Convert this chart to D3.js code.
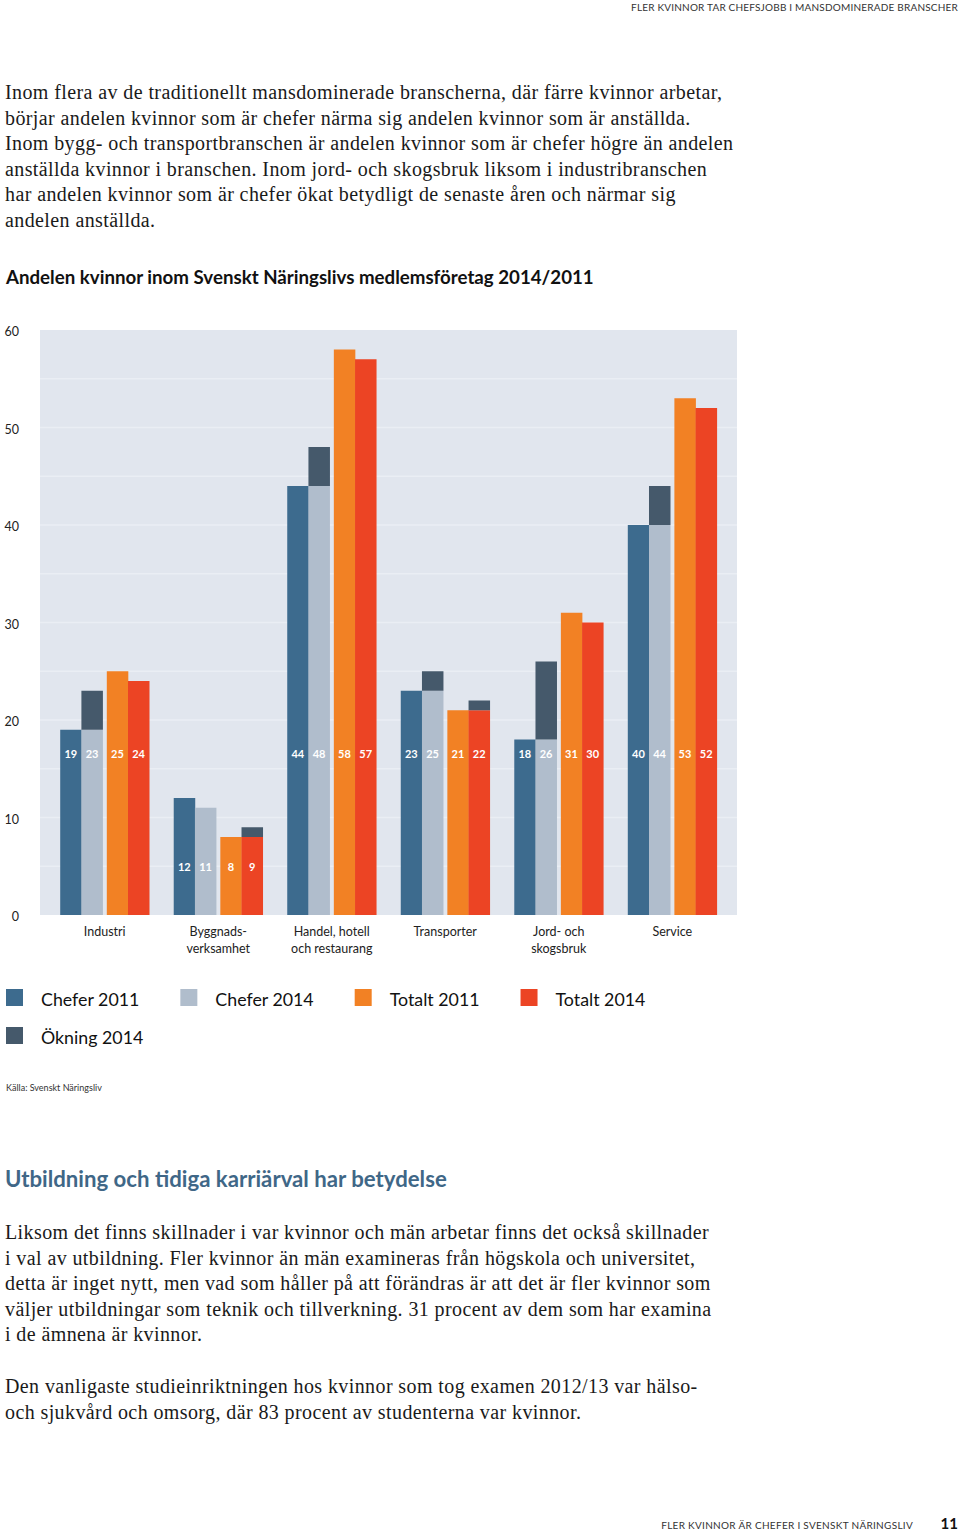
<!DOCTYPE html>
<html><head><meta charset="utf-8">
<script src="https://cdn.jsdelivr.net/npm/d3@7"></script>
<style>
html,body{margin:0;padding:0;background:#fff;}
svg{display:block;}
</style></head>
<body>
<svg id="c" width="960" height="1532"></svg>
<script>
// ---- data ----
const categories = [["Industri"],["Byggnads-","verksamhet"],["Handel, hotell","och restaurang"],["Transporter"],["Jord- och","skogsbruk"],["Service"]];
const chefer2011 = [19, 12, 44, 23, 18, 40];
const chefer2014 = [23, 11, 48, 25, 26, 44];
const totalt2011 = [25, 8, 58, 21, 31, 53];
const totalt2014 = [24, 9, 57, 22, 30, 52];
const yTicks = [0, 10, 20, 30, 40, 50, 60];
const legendLabels = ["Chefer 2011", "Chefer 2014", "Totalt 2011", "Totalt 2014", "Ökning 2014"];

const header = "FLER KVINNOR TAR CHEFSJOBB I MANSDOMINERADE BRANSCHER";
const intro = [
 "Inom flera av de traditionellt mansdominerade branscherna, där färre kvinnor arbetar,",
 "börjar andelen kvinnor som är chefer närma sig andelen kvinnor som är anställda.",
 "Inom bygg- och transportbranschen är andelen kvinnor som är chefer högre än andelen",
 "anställda kvinnor i branschen. Inom jord- och skogsbruk liksom i industribranschen",
 "har andelen kvinnor som är chefer ökat betydligt de senaste åren och närmar sig",
 "andelen anställda."];
const chartTitle = "Andelen kvinnor inom Svenskt Näringslivs medlemsföretag 2014/2011";
const source = "Källa: Svenskt Näringsliv";
const heading2 = "Utbildning och tidiga karriärval har betydelse";
const para2 = [
 "Liksom det finns skillnader i var kvinnor och män arbetar finns det också skillnader",
 "i val av utbildning. Fler kvinnor än män examineras från högskola och universitet,",
 "detta är inget nytt, men vad som håller på att förändras är att det är fler kvinnor som",
 "väljer utbildningar som teknik och tillverkning. 31 procent av dem som har examina",
 "i de ämnena är kvinnor."];
const para3 = [
 "Den vanligaste studieinriktningen hos kvinnor som tog examen 2012/13 var hälso-",
 "och sjukvård och omsorg, där 83 procent av studenterna var kvinnor."];
const footer = "FLER KVINNOR ÄR CHEFER I SVENSKT NÄRINGSLIV";
const pageNo = "11";

// ---- styles ----
const C = {c11:"#3d6b8e", c14:"#b0bdcc", t11:"#f28124", t14:"#ec4424", ok:"#45596b", bg:"#e1e6ee", grid:"#eaeef4", text:"#1a1a1a", head:"#3f6787"};
const sans = "Lato, 'Open Sans', sans-serif";
const serif = "'Liberation Serif', 'DejaVu Serif', serif";

const svg = d3.select("#c");

// header
svg.append("text").attr("x",958).attr("y",11).attr("text-anchor","end")
  .attr("font-family",sans).attr("font-size",10).attr("letter-spacing",0.2).attr("fill","#333").text(header);

function para(lines, y0, lh){
  svg.append("g").selectAll("text").data(lines).join("text")
   .attr("x",5).attr("y",(d,i)=>y0+i*lh)
   .attr("font-family",serif).attr("font-size",20).attr("letter-spacing",0.4)
   .attr("fill",C.text).text(d=>d);
}
para(intro, 99, 25.6);

svg.append("text").attr("x",6).attr("y",284).attr("font-family",sans).attr("font-weight",700)
  .attr("font-size",18.7).attr("fill","#111").text(chartTitle);

// ---- chart ----
const plot = {left:40, right:737, top:330, bottom:915};
const y = d3.scaleLinear().domain([0,60]).range([plot.bottom, plot.top]);
const x0 = d3.scaleBand().domain(d3.range(categories.length)).range([plot.left, plot.right])
   .paddingInner(0.216).paddingOuter(0.178);
const xPair = d3.scaleBand().domain(["Chefer","Totalt"]).range([0, x0.bandwidth()]).paddingInner(0.09);
const xYear = d3.scaleBand().domain(["2011","2014"]).range([0, xPair.bandwidth()]);

const g = svg.append("g");
g.append("rect").attr("x",plot.left).attr("y",plot.top).attr("width",plot.right-plot.left)
  .attr("height",plot.bottom-plot.top).attr("fill",C.bg);
g.selectAll("line.grid").data(d3.range(5,60,5)).join("line")
  .attr("x1",plot.left).attr("x2",plot.right).attr("y1",d=>y(d)).attr("y2",d=>y(d))
  .attr("stroke",C.grid).attr("stroke-width",1.5);

// y tick labels
g.selectAll("text.yt").data(yTicks).join("text")
  .attr("x",19).attr("y",d=>y(d)+2).attr("dy","0.32em").attr("text-anchor","end")
  .attr("font-family",sans).attr("font-size",12.5).attr("fill","#222").text(d=>d);

// bars
const series = [
  {pair:"Chefer", year:"2011", vals:chefer2011, color:C.c11, base:null},
  {pair:"Chefer", year:"2014", vals:chefer2014, color:C.c14, base:chefer2011},
  {pair:"Totalt", year:"2011", vals:totalt2011, color:C.t11, base:null},
  {pair:"Totalt", year:"2014", vals:totalt2014, color:C.t14, base:totalt2011}
];
const bw = xYear.bandwidth();
series.forEach(s=>{
  const bx = i => x0(i) + xPair(s.pair) + xYear(s.year);
  const rows = s.vals.map((v,i)=>({i, v, b: s.base ? s.base[i] : null}));
  g.append("g").selectAll("rect").data(rows).join("rect")
    .attr("x",d=>bx(d.i)).attr("width",bw+0.3)
    .attr("y",d=>y(d.b!==null && d.v>d.b ? d.b : d.v))
    .attr("height",d=>y(0)-y(d.b!==null && d.v>d.b ? d.b : d.v))
    .attr("fill",s.color);
  g.append("g").selectAll("rect").data(rows.filter(d=>d.b!==null && d.v>d.b)).join("rect")
    .attr("x",d=>bx(d.i)).attr("width",bw+0.3)
    .attr("y",d=>y(d.v)).attr("height",d=>y(d.b)-y(d.v)).attr("fill",C.ok);
  g.append("g").selectAll("text").data(rows).join("text")
    .attr("x",d=>bx(d.i)+bw/2)
    .attr("y",d=>{
      const mn = Math.min(chefer2011[d.i],chefer2014[d.i],totalt2011[d.i],totalt2014[d.i]);
      return y(mn >= 17 ? 16.5 : 4.9);
    })
    .attr("dy","0.35em").attr("text-anchor","middle")
    .attr("font-family",sans).attr("font-weight",700).attr("font-size",11).attr("fill","#fff")
    .text(d=>d.v);
});

// category labels
const cl = g.selectAll("g.cat").data(categories).join("g")
  .attr("transform",(d,i)=>`translate(${x0(i)+x0.bandwidth()/2},0)`);
cl.selectAll("text").data(d=>d).join("text")
  .attr("x",0).attr("y",(d,i)=>936+i*16.5).attr("text-anchor","middle")
  .attr("font-family",sans).attr("font-size",12.5).attr("fill","#222").text(d=>d);

// legend
const legColors = [C.c11, C.c14, C.t11, C.t14, C.ok];
let lx = 6, ly = 989;
legendLabels.forEach((lab,i)=>{
  if(i===4){ lx = 6; ly = 1027; }
  svg.append("rect").attr("x",lx).attr("y",ly).attr("width",17).attr("height",17).attr("fill",legColors[i]);
  const t = svg.append("text").attr("x",lx+35).attr("y",ly+17)
    .attr("font-family",sans).attr("font-size",17.8).attr("fill","#111").text(lab);
  lx = lx + 35 + t.node().getComputedTextLength() + 41;
});

svg.append("text").attr("x",6).attr("y",1091).attr("font-family",sans).attr("font-size",9)
  .attr("fill","#333").text(source);

svg.append("text").attr("x",5).attr("y",1187).attr("font-family",sans).attr("font-weight",700)
  .attr("font-size",22.2).attr("fill",C.head).text(heading2);

para(para2, 1239, 25.6);
para(para3, 1393, 25.6);

svg.append("text").attr("x",913).attr("y",1529).attr("text-anchor","end")
  .attr("font-family",sans).attr("font-size",10).attr("letter-spacing",0.3).attr("fill","#333").text(footer);
svg.append("text").attr("x",958).attr("y",1529).attr("text-anchor","end")
  .attr("font-family",sans).attr("font-weight",700).attr("font-size",15).attr("fill","#111").text(pageNo);
</script>
</body></html>
